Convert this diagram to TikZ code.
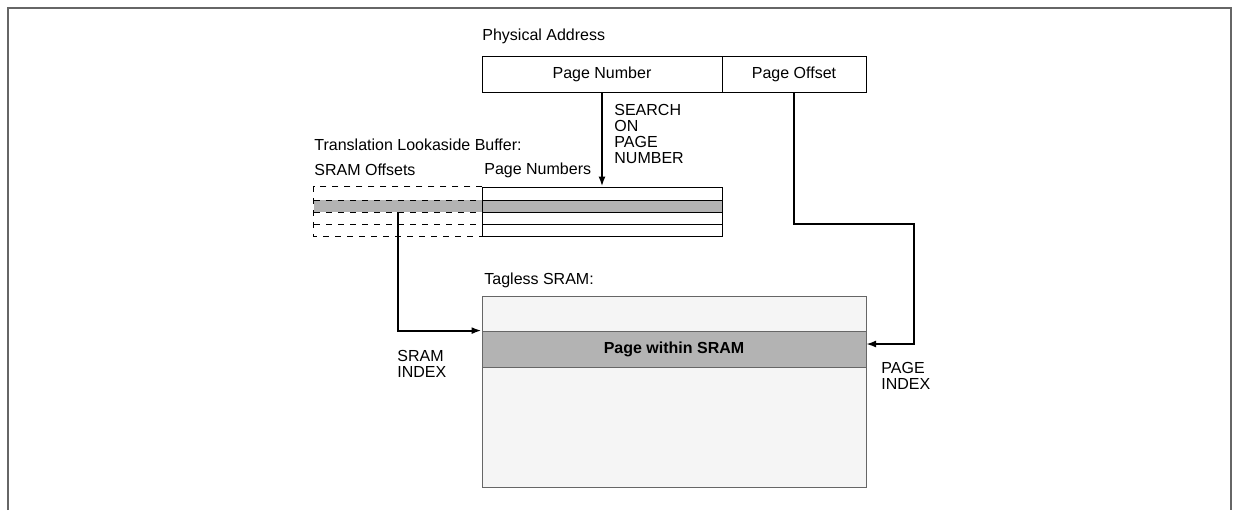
\documentclass[tikz,border=0pt]{standalone}
\usepackage{fontspec}
\setmainfont{Liberation Sans}
\usetikzlibrary{arrows.meta}

\definecolor{bandgray}{HTML}{B3B3B3}
\definecolor{ramgray}{HTML}{F5F5F5}
\definecolor{edgegray}{HTML}{666666}

\begin{document}
\begin{tikzpicture}[x=0.5pt, y=-0.5pt,
every node/.style={font=\fontsize{8}{8}\selectfont, inner sep=0pt},
lbl/.style={anchor=west, align=left},
addr/.style={draw, thin, minimum height=18pt},
wire/.style={line width=1pt},
ptr/.style={wire, -{Latex[length=5pt,width=3.5pt]}},
tlbrow/.style={draw, line width=0.5pt}]
\useasboundingbox (0,0) rectangle (1233,510);
% frame
\draw[edgegray, line width=0.8pt] (8,510) -- (8,8) -- (1231,8) -- (1231,510);

% physical address
\node[lbl] (pa) at (482,36) {Physical Address};
\node[addr, minimum width=120pt] (pn) at (602,74) {Page Number};
\node[addr, minimum width=72pt] (po) at (794,74) {Page Offset};

% translation lookaside buffer
\node[lbl] (tlbl) at (314,145) {Translation Lookaside Buffer:};
\node[lbl] (offl) at (314,170) {SRAM Offsets};
\node[lbl] (pnl) at (484,170) {Page Numbers};
\node[fill=bandgray, minimum width=204pt, minimum height=6pt] (hit) at (518,206) {};
\node[draw, minimum width=120pt, minimum height=24.5pt] (tlb) at (602,211.5) {};
\node[minimum width=84pt, minimum height=24.5pt] (offs) at (398,211.5) {};
\draw[dashed, dash pattern=on 3pt off 3pt] (offs.north east) -- (offs.north west)
  -- (offs.south west) -- (offs.south east);
\foreach \y in {200,212,224}
  \draw[dashed, dash pattern=on 3pt off 3pt] (314,\y) -- (482,\y);
\foreach \y in {200,212,224}
  \draw (482,\y) -- (722,\y);

% tagless sram
\node[lbl] (ramlbl) at (484,280) {Tagless SRAM:};
\node[draw=edgegray, fill=ramgray, minimum width=192pt, minimum height=95.5pt] (ram) at (674,391.5) {};
\node[draw=edgegray, fill=bandgray, minimum width=192pt, minimum height=18pt,
  font=\fontsize{8}{8}\selectfont\bfseries] (page) at (674,349) {Page within SRAM};

% connectors
\node[lbl, anchor=north west] (search) at (614,104) {SEARCH\\ON\\PAGE\\NUMBER};
\draw[ptr] (pn.south) -- (tlb.north);
\coordinate (idx) at (398,212);
\draw[ptr] (idx) |- (page.north west);
\node[lbl] (sidx) at (397,364) {SRAM\\INDEX};
\coordinate (pin) at (866,344);
\draw[ptr] (po.south) |- (914,224) |- (pin);
\node[lbl] (pidx) at (881,376) {PAGE\\INDEX};
\end{tikzpicture}
\end{document}
